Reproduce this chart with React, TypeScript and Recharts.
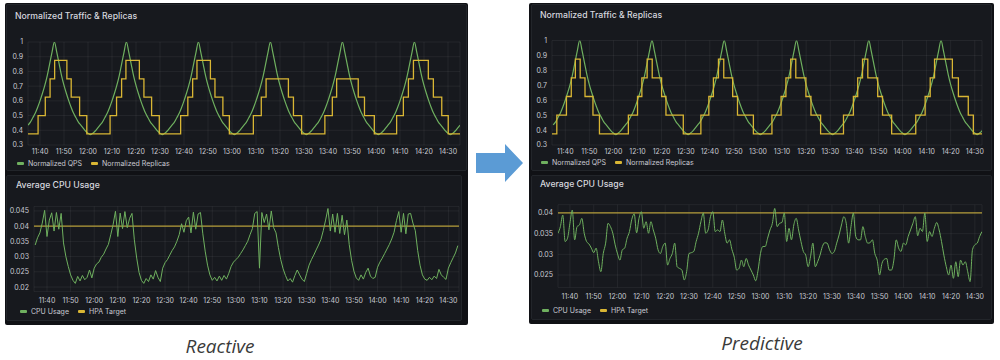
import { LineChart, Line, XAxis, YAxis, CartesianGrid, ReferenceLine } from 'recharts';

// time is in minutes relative to 11:40
const timeTicks = [0, 10, 20, 30, 40, 50, 60, 70, 80, 90, 100, 110, 120, 130, 140, 150, 160, 170];
const trafficTicks = [0.3, 0.4, 0.5, 0.6, 0.7, 0.8, 0.9, 1];
const cpuTicksReactive = [0.02, 0.025, 0.03, 0.035, 0.04, 0.045];
const cpuTicksPredictive = [0.025, 0.03, 0.035, 0.04];
const HPA_TARGET = 0.04;

// normalized QPS, one value per minute from 11:35
const QPS_START = -5;
const qps = [
  0.435, 0.455, 0.485, 0.515, 0.555, 0.6, 0.65, 0.705, 0.77, 0.85, 0.93,
  1.0, 0.93, 0.85, 0.77, 0.705, 0.65, 0.6, 0.555, 0.515, 0.485, 0.455, 0.435, 0.415, 0.395, 0.38,
  0.37, 0.38, 0.395, 0.415, 0.435, 0.455, 0.485, 0.515, 0.555, 0.6, 0.65, 0.705, 0.77, 0.85, 0.93,
  1.0, 0.93, 0.85, 0.77, 0.705, 0.65, 0.6, 0.555, 0.515, 0.485, 0.455, 0.435, 0.415, 0.395, 0.38,
  0.37, 0.38, 0.395, 0.415, 0.435, 0.455, 0.485, 0.515, 0.555, 0.6, 0.65, 0.705, 0.77, 0.85, 0.93,
  1.0, 0.93, 0.85, 0.77, 0.705, 0.65, 0.6, 0.555, 0.515, 0.485, 0.455, 0.435, 0.415, 0.395, 0.38,
  0.37, 0.38, 0.395, 0.415, 0.435, 0.455, 0.485, 0.515, 0.555, 0.6, 0.65, 0.705, 0.77, 0.85, 0.93,
  1.0, 0.93, 0.85, 0.77, 0.705, 0.65, 0.6, 0.555, 0.515, 0.485, 0.455, 0.435, 0.415, 0.395, 0.38,
  0.37, 0.38, 0.395, 0.415, 0.435, 0.455, 0.485, 0.515, 0.555, 0.6, 0.65, 0.705, 0.77, 0.85, 0.93,
  1.0, 0.93, 0.85, 0.77, 0.705, 0.65, 0.6, 0.555, 0.515, 0.485, 0.455, 0.435, 0.415, 0.395, 0.38,
  0.37, 0.38, 0.395, 0.415, 0.435, 0.455, 0.485, 0.515, 0.555, 0.6, 0.65, 0.705, 0.77, 0.85, 0.93,
  1.0, 0.93, 0.85, 0.77, 0.705, 0.65, 0.6, 0.555, 0.515, 0.485, 0.455, 0.435, 0.415, 0.395, 0.38,
  0.37, 0.38, 0.395, 0.415, 0.435,
];

// replica steps (time of change, level)
const reactiveStepTimes = [
  -5, -0.8, 2.2, 4.2, 6.1, 11.2, 13, 16.5, 19.5,
  29.2, 31.9, 34, 35.8, 41.4, 43.3, 46.5, 49.7,
  58.6, 61.6, 63.6, 65.4, 71, 72.9, 76.2, 78.9,
  88.9, 92.2, 94.2, 103.5, 105.6, 109,
  118.7, 121.8, 123.6, 132.6, 135.2, 139.3,
  148.6, 151.4, 153.5, 155.6, 161.8, 163.9, 167.4, 170.1,
  175,
];
const reactiveStepLevels = [
  0.375, 0.5, 0.625, 0.75, 0.875, 0.75, 0.625, 0.5, 0.375,
  0.5, 0.625, 0.75, 0.875, 0.75, 0.625, 0.5, 0.375,
  0.5, 0.625, 0.75, 0.875, 0.75, 0.625, 0.5, 0.375,
  0.5, 0.625, 0.75, 0.625, 0.5, 0.375,
  0.5, 0.625, 0.75, 0.625, 0.5, 0.375,
  0.5, 0.625, 0.75, 0.875, 0.75, 0.625, 0.5, 0.375,
  0.375,
];
const predictiveStepTimes = [
  -5.5, -3.5, 0.5, 2.5, 4.2, 6.2, 8.2, 11.5, 14.2,
  26.2, 30, 31.8, 34, 36.1, 40, 41.8, 49,
  56.3, 59.6, 61.5, 63.6, 65.8, 69.5, 71.5, 78.1,
  85.8, 89.6, 91.6, 93.6, 95.7, 99.9, 102, 106,
  115.5, 119.6, 121.4, 123.4, 125.6, 129.7, 131.7, 135.5,
  145.5, 149.4, 151.5, 153.3, 160.7, 163.2, 167.3, 169.4,
  173,
];
const predictiveStepLevels = [
  0.375, 0.5, 0.625, 0.75, 0.875, 0.75, 0.625, 0.5, 0.375,
  0.5, 0.625, 0.75, 0.875, 0.75, 0.625, 0.5, 0.375,
  0.5, 0.625, 0.75, 0.875, 0.75, 0.625, 0.5, 0.375,
  0.5, 0.625, 0.75, 0.875, 0.75, 0.625, 0.5, 0.375,
  0.5, 0.625, 0.75, 0.875, 0.75, 0.625, 0.5, 0.375,
  0.5, 0.625, 0.75, 0.875, 0.75, 0.625, 0.5, 0.375,
  0.375,
];

// average cpu, one value per minute from 11:35
const CPU_START = -5;
const cpuReactive = [
  0.0338, 0.0362, 0.0378, 0.041, 0.0452, 0.0366, 0.042, 0.0444, 0.0384, 0.0445,
  0.039, 0.0442, 0.0345, 0.03, 0.0268, 0.024, 0.0222, 0.0212, 0.0235, 0.022,
  0.0238, 0.0224, 0.0232, 0.0256, 0.023, 0.0262, 0.0276, 0.0282, 0.0298, 0.0308,
  0.0325, 0.034, 0.0372, 0.0405, 0.0449, 0.0366, 0.0443, 0.0392, 0.0448, 0.0395,
  0.0426, 0.0442, 0.0355, 0.0295, 0.0248, 0.0222, 0.0212, 0.0228, 0.0218, 0.024,
  0.0226, 0.0254, 0.0232, 0.0218, 0.0262, 0.028, 0.029, 0.0305, 0.032, 0.0332,
  0.035, 0.0372, 0.0408, 0.038, 0.0418, 0.043, 0.0378, 0.0446, 0.039, 0.044,
  0.0445, 0.0375, 0.0318, 0.0272, 0.024, 0.0222, 0.0232, 0.022, 0.0236, 0.0222,
  0.0238, 0.0226, 0.0245, 0.0268, 0.0282, 0.029, 0.0298, 0.031, 0.0322, 0.0336,
  0.035, 0.0372, 0.0392, 0.0442, 0.0448, 0.0262, 0.0445, 0.0412, 0.044, 0.0388,
  0.045, 0.0395, 0.0378, 0.033, 0.029, 0.026, 0.0238, 0.022, 0.0228, 0.0216,
  0.0238, 0.0256, 0.024, 0.0226, 0.0218, 0.0245, 0.0272, 0.029, 0.0305, 0.0322,
  0.0338, 0.0356, 0.0385, 0.042, 0.0458, 0.0384, 0.044, 0.038, 0.0442, 0.0376,
  0.0436, 0.0372, 0.042, 0.034, 0.0288, 0.0252, 0.023, 0.0222, 0.024, 0.0226,
  0.0248, 0.0262, 0.0236, 0.0228, 0.0232, 0.0265, 0.0282, 0.0295, 0.031, 0.0325,
  0.034, 0.0358, 0.038, 0.0418, 0.0448, 0.038, 0.0442, 0.0375, 0.044, 0.0442,
  0.041, 0.0385, 0.032, 0.0272, 0.024, 0.0226, 0.0222, 0.0232, 0.0224, 0.0236,
  0.0228, 0.0258, 0.024, 0.0232, 0.0225, 0.0262, 0.028, 0.0296, 0.0312, 0.0336,
];
const cpuPredictive = [
  0.0351, 0.0367, 0.0395, 0.0331, 0.0339, 0.0375, 0.0407, 0.0335, 0.0367, 0.0371,
  0.0387, 0.0351, 0.0331, 0.0325, 0.0315, 0.0304, 0.0315, 0.0282, 0.0258, 0.0302,
  0.0327, 0.0375, 0.0367, 0.0351, 0.0323, 0.0301, 0.0286, 0.0311, 0.0315, 0.0339,
  0.0355, 0.0385, 0.0398, 0.0352, 0.0387, 0.0403, 0.0363, 0.0379, 0.0351, 0.0379,
  0.0359, 0.0339, 0.0311, 0.0302, 0.0319, 0.0327, 0.0274, 0.029, 0.0302, 0.0327,
  0.027, 0.0266, 0.0262, 0.0238, 0.0258, 0.0302, 0.0304, 0.0307, 0.0331, 0.0351,
  0.0379, 0.04, 0.0351, 0.0359, 0.0391, 0.0403, 0.0355, 0.0359, 0.0355, 0.0383,
  0.0351, 0.0327, 0.0335, 0.0312, 0.0293, 0.0262, 0.0266, 0.0286, 0.027, 0.029,
  0.0274, 0.0262, 0.025, 0.0236, 0.0262, 0.0302, 0.0319, 0.0319, 0.0339, 0.0359,
  0.0375, 0.0411, 0.0367, 0.0375, 0.0377, 0.04, 0.0331, 0.0363, 0.0335, 0.0371,
  0.0387, 0.0359, 0.0331, 0.0307, 0.0298, 0.027, 0.0294, 0.0327, 0.027, 0.0282,
  0.0298, 0.0319, 0.0328, 0.0327, 0.0311, 0.0302, 0.0307, 0.0327, 0.0347, 0.0371,
  0.0391, 0.0375, 0.0327, 0.0367, 0.04, 0.0343, 0.0335, 0.0335, 0.0367, 0.0343,
  0.0327, 0.0328, 0.0335, 0.0302, 0.0286, 0.025, 0.0278, 0.0288, 0.029, 0.0262,
  0.0262, 0.0286, 0.0335, 0.0315, 0.0307, 0.0327, 0.0323, 0.0343, 0.0359, 0.0375,
  0.0391, 0.0345, 0.0363, 0.0355, 0.04, 0.0331, 0.0355, 0.0343, 0.0363, 0.0377,
  0.0359, 0.0331, 0.0298, 0.027, 0.025, 0.0274, 0.0242, 0.0282, 0.0246, 0.0286,
  0.0274, 0.0282, 0.0258, 0.0234, 0.0311, 0.0323, 0.0327, 0.0343, 0.0355,
];

const FONT = 'Inter, "Noto Sans", sans-serif';
const GREEN = '#6fb05f';
const YELLOW = '#d9b634';
const TARGET = '#b39c38';
const TEXT = '#c8c9d2';
const GRID = 'rgba(255,255,255,0.06)';

const perMinute = (values: number[], start: number) => values.map((v, i) => ({ t: start + i, v }));
const steps = (times: number[], levels: number[]) => times.map((t, i) => ({ t, v: levels[i] }));

const qpsRows = perMinute(qps, QPS_START);
const reactiveRows = steps(reactiveStepTimes, reactiveStepLevels);
const predictiveRows = steps(predictiveStepTimes, predictiveStepLevels);
const cpuReactiveRows = perMinute(cpuReactive, CPU_START);
const cpuPredictiveRows = perMinute(cpuPredictive, CPU_START);

const clock = (t: number) => {
  const m = 700 + t;
  const h = Math.floor(m / 60);
  const mm = m % 60;
  return `${h}:${mm < 10 ? '0' : ''}${mm}`;
};
const num = (v: number) => String(Number(v.toFixed(3)));

const tick = { fontSize: 7, fill: TEXT, fontFamily: FONT };

function Title({ x, y, text }: { x: number; y: number; text: string }) {
  return (
    <div style={{ position: 'absolute', left: x, top: y, fontSize: 8.7, fontWeight: 500, color: '#d6d7de', fontFamily: FONT, whiteSpace: 'nowrap' }}>
      {text}
    </div>
  );
}

function Legend({ x, y, items }: { x: number; y: number; items: { label: string; color: string }[] }) {
  return (
    <div style={{ position: 'absolute', left: x, top: y, display: 'flex', gap: 9, fontSize: 7, color: TEXT, fontFamily: FONT, whiteSpace: 'nowrap', alignItems: 'center' }}>
      {items.map((it) => (
        <div key={it.label} style={{ display: 'flex', alignItems: 'center' }}>
          <span style={{ width: 7, height: 2.5, borderRadius: 1, background: it.color, marginRight: 4, display: 'inline-block' }} />
          {it.label}
        </div>
      ))}
    </div>
  );
}

function Box({ x, y, w, h, bg, border }: { x: number; y: number; w: number; h: number; bg: string; border?: string }) {
  return (
    <div style={{ position: 'absolute', left: x, top: y, width: w, height: h, background: bg, border: border ? `1px solid ${border}` : undefined, borderRadius: 2, boxSizing: 'border-box' }} />
  );
}

function TrafficChart({ left, replicas, xDomain, yWidth, marginTop, marginRight }: any) {
  return (
    <div style={{ position: 'absolute', left, top: 0 }}>
      <LineChart width={470} height={160} margin={{ top: marginTop, right: marginRight, bottom: 5, left: 0 }}>
        <CartesianGrid stroke={GRID} />
        <XAxis dataKey="t" type="number" domain={xDomain} allowDataOverflow ticks={timeTicks} interval={0}
          tickFormatter={clock} tick={tick} axisLine={false} tickLine={false} tickSize={0} tickMargin={4} height={10} />
        <YAxis type="number" domain={[0.3, 1]} allowDataOverflow ticks={trafficTicks} interval={0}
          tickFormatter={num} tick={tick} axisLine={false} tickLine={false} tickSize={0} tickMargin={5} width={yWidth} />
        <Line data={qpsRows} dataKey="v" type="monotone" stroke={GREEN} strokeWidth={1.2} dot={false} isAnimationActive={false} />
        <Line data={replicas} dataKey="v" type="stepAfter" stroke={YELLOW} strokeWidth={1.3} dot={false} isAnimationActive={false} />
      </LineChart>
    </div>
  );
}

function CpuChart({ left, rows, xDomain, yDomain, yTicks, yWidth, marginTop, marginBottom, curve, xTickMargin }: any) {
  return (
    <div style={{ position: 'absolute', left, top: 195 }}>
      <LineChart width={470} height={115} margin={{ top: marginTop, right: left > 0 ? 13 : 11, bottom: marginBottom, left: 0 }}>
        <CartesianGrid stroke={GRID} />
        <XAxis dataKey="t" type="number" domain={xDomain} allowDataOverflow ticks={timeTicks} interval={0}
          tickFormatter={clock} tick={tick} axisLine={false} tickLine={false} tickSize={0} tickMargin={xTickMargin} height={10} />
        <YAxis type="number" domain={yDomain} allowDataOverflow ticks={yTicks} interval={0}
          tickFormatter={num} tick={tick} axisLine={false} tickLine={false} tickSize={0} tickMargin={5} width={yWidth} />
        <ReferenceLine y={HPA_TARGET} stroke={TARGET} strokeWidth={1.2} ifOverflow="extendDomain" />
        <Line data={rows} dataKey="v" type={curve} stroke={GREEN} strokeWidth={1} dot={false} isAnimationActive={false} />
      </LineChart>
    </div>
  );
}

export default function App() {
  const trafficLegend = [
    { label: 'Normalized QPS', color: GREEN },
    { label: 'Normalized Replicas', color: YELLOW },
  ];
  const cpuLegend = [
    { label: 'CPU Usage', color: GREEN },
    { label: 'HPA Target', color: YELLOW },
  ];
  return (
    <div style={{ position: 'absolute', left: 0, top: 0, width: 1000, height: 360, background: '#ffffff', overflow: 'hidden' }}>
      {/* reactive dashboard */}
      <Box x={5} y={3} w={463} h={322} bg="#101115" />
      <Box x={6} y={4} w={461} h={167} bg="#17191e" border="#22252a" />
      <Box x={6} y={175} w={456} h={146} bg="#17191e" border="#22252a" />
      {/* predictive dashboard */}
      <Box x={529} y={3} w={465} h={321} bg="#101115" />
      <Box x={531} y={4} w={461} h={167} bg="#17191e" border="#22252a" />
      <Box x={531} y={175} w={461} h={145} bg="#17191e" border="#22252a" />

      <Title x={15} y={11} text="Normalized Traffic & Replicas" />
      <Title x={16} y={180} text="Average CPU Usage" />
      <Title x={540} y={10} text="Normalized Traffic & Replicas" />
      <Title x={540} y={179} text="Average CPU Usage" />

      <TrafficChart left={0} replicas={reactiveRows} xDomain={[-5, 175]} yWidth={28} marginTop={42} marginRight={10} />
      <TrafficChart left={525} replicas={predictiveRows} xDomain={[-5.5, 173]} yWidth={27} marginTop={40.5} marginRight={13} />

      <CpuChart left={0} rows={cpuReactiveRows} xDomain={[-5.5, 174.5]} yDomain={[0.0185, 0.0465]} yTicks={cpuTicksReactive}
        yWidth={34} marginTop={11.4} marginBottom={8.4} curve="linear" xTickMargin={6} />
      <CpuChart left={525} rows={cpuPredictiveRows} xDomain={[-5, 173]} yDomain={[0.022, 0.042]} yTicks={cpuTicksPredictive}
        yWidth={33} marginTop={9.7} marginBottom={12.6} curve="monotone" xTickMargin={7} />

      <Legend x={17} y={159} items={trafficLegend} />
      <Legend x={20} y={307} items={cpuLegend} />
      <Legend x={541} y={158} items={trafficLegend} />
      <Legend x={542} y={306} items={cpuLegend} />

      <svg width={1000} height={360} style={{ position: 'absolute', left: 0, top: 0, pointerEvents: 'none' }}>
        <polygon points="476,153 505,153 505,144 523,163 505,182 505,173 476,173" fill="#5b9bd5" />
      </svg>

      <div style={{ position: 'absolute', left: 120, width: 200, top: 333, textAlign: 'center', fontFamily: '"Open Sans", sans-serif', fontStyle: 'italic', fontSize: 19, color: '#3a3a3a' }}>
        Reactive
      </div>
      <div style={{ position: 'absolute', left: 662, width: 200, top: 330, textAlign: 'center', fontFamily: '"Open Sans", sans-serif', fontStyle: 'italic', fontSize: 19, color: '#3a3a3a' }}>
        Predictive
      </div>
    </div>
  );
}
